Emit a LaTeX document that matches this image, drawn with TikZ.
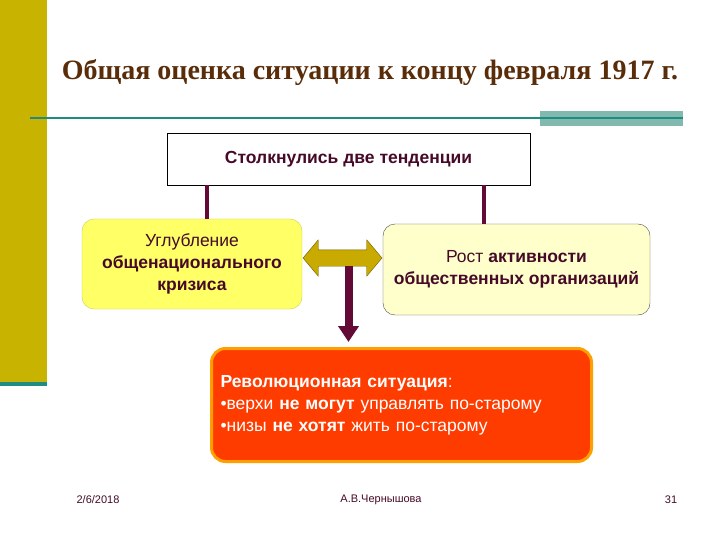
\documentclass[tikz,border=0pt]{standalone}
\usepackage{fontspec}
\setmainfont{Liberation Serif}
\setsansfont{Liberation Sans}
\usetikzlibrary{arrows.meta,positioning,shapes.arrows,calc}
\definecolor{cBar}{RGB}{200,180,0}
\definecolor{cTeal}{RGB}{30,140,130}
\definecolor{cTealBlock}{RGB}{130,185,175}
\definecolor{cTitle}{RGB}{90,45,10}
\definecolor{cMaroon}{RGB}{100,10,55}
\definecolor{cText}{RGB}{70,10,40}
\definecolor{cYellow}{RGB}{255,255,102}
\definecolor{cPale}{RGB}{255,255,204}
\definecolor{cOlive}{RGB}{200,170,0}
\definecolor{cRed}{RGB}{255,60,0}
\definecolor{cOrange}{RGB}{255,160,0}

\begin{document}
\begin{tikzpicture}[x=1pt,y=-1pt,
    boxfont/.style={font=\sffamily\fontsize{17.5}{22}\selectfont},
    footfont/.style={font=\sffamily\fontsize{11}{13}\selectfont,text=cText},
    tendbox/.style={boxfont,draw,rounded corners=12pt,align=center,inner sep=0pt},
    link/.style={cMaroon,line width=4pt}]
  \useasboundingbox (0,0) rectangle (720,540);
  % Slide decoration
  \fill[cBar] (0,0) rectangle (47,382);
  \fill[cTeal] (0,382) rectangle (47,386);
  \fill[cTealBlock] (540,111) rectangle (683,126);
  \draw[cTeal,line width=2pt] (30,118) -- (683,118);
  % Title
  \node[font=\bfseries\fontsize{28}{32}\selectfont,text=cTitle] (title) at (370,73)
    {Общая оценка ситуации к концу февраля 1917 г.};
  % Boxes
  \node[draw,fill=white,thin,minimum width=363pt,minimum height=52pt,boxfont,text=cText] (top) at (348.5,159)
    {\bfseries Столкнулись две тенденции};
  \node[tendbox,fill=cYellow,draw=cYellow!80!black,minimum width=220pt,minimum height=90pt,text=cText] (crisis) at (192,264)
    {Углубление\\\bfseries общенационального\\\bfseries кризиса};
  \node[tendbox,fill=cPale,draw=black!70,minimum width=267pt,minimum height=91pt,text=cText] (growth) at (516.5,269.5)
    {Рост \textbf{активности}\\\bfseries общественных организаций};
  \node[draw=cOrange,line width=3pt,fill=cRed,rounded corners=14pt,minimum width=380pt,minimum height=113pt,
    boxfont,text=white,align=left,text width=362pt] (rev) at (401.5,405)
    {\textbf{Революционная ситуация}:\\
     •верхи \textbf{не могут} управлять по-старому\\
     •низы \textbf{не хотят} жить по-старому};
  % Connectors
  \coordinate (tl) at (207,185);
  \coordinate (tr) at (484,185);
  \draw[link] (tl) -- (tl |- crisis.north);
  \draw[link] (tr) -- (tr |- growth.north);
  \node[double arrow,fill=cOlive,draw=cOlive!55!black,inner xsep=0pt,inner ysep=8pt,
    double arrow head extend=10pt,double arrow tip angle=100,minimum height=79pt] (both) at (342.5,258) {};
  \coordinate (down) at ($(both.center)+(6,8)$);
  \draw[cMaroon,line width=8pt,-{Triangle[width=20pt,length=16pt]},shorten >=5pt]
    (down) -- (down |- rev.north);
  % Footer
  \node[footfont] (date) at (98,500) {2/6/2018};
  \node[footfont] (author) at (381,500) {А.В.Чернышова};
  \node[footfont] (page) at (671,500) {31};
\end{tikzpicture}
\end{document}
